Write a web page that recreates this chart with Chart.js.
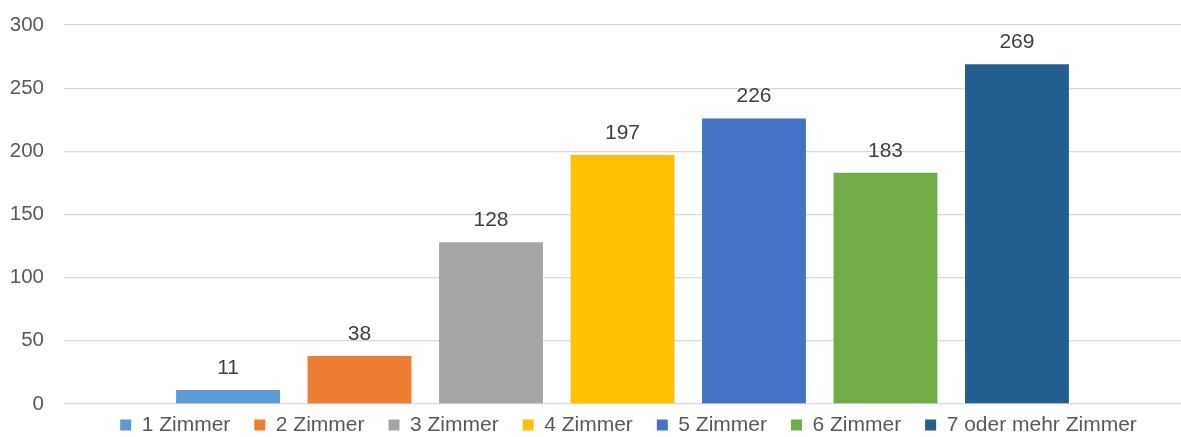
<!DOCTYPE html>
<html>
<head>
<meta charset="utf-8">
<script src="https://cdn.jsdelivr.net/npm/chart.js@4"></script>
<style>
    html, body { margin: 0; padding: 0; background: #fff; }
    #wrap { width: 1181px; height: 437px; position: relative; }
</style>
</head>
<body>
<div id="wrap"><canvas id="chart"></canvas></div>
<script>
    // Data
    const seriesNames = ['1 Zimmer', '2 Zimmer', '3 Zimmer', '4 Zimmer', '5 Zimmer', '6 Zimmer', '7 oder mehr Zimmer'];
    const seriesValues = [11, 38, 128, 197, 226, 183, 269];
    const seriesColors = ['#5B9BD5', '#ED7D31', '#A5A5A5', '#FFC000', '#4472C4', '#70AD47', '#255E91'];
    const yTicks = [0, 50, 100, 150, 200, 250, 300];

    const FONT = '"Liberation Sans", Arial, sans-serif';
    const LEGEND_PAD = 24;
    const LEGEND_FONT = 21;

    // Value labels above each bar
    const valueLabels = {
        id: 'valueLabels',
        afterDatasetsDraw: function(chart) {
            const ctx = chart.ctx;
            ctx.save();
            ctx.font = '21px ' + FONT;
            ctx.fillStyle = '#404040';
            ctx.textAlign = 'center';
            ctx.textBaseline = 'alphabetic';
            chart.data.datasets.forEach(function(ds, i) {
                const meta = chart.getDatasetMeta(i);
                meta.data.forEach(function(bar, j) {
                    ctx.fillText(String(ds.data[j]), bar.x, bar.y - 16);
                });
            });
            ctx.restore();
        }
    };

    // Legend sits tighter under the plot than Chart.js would put it
    const legendShift = {
        id: 'legendShift',
        afterLayout: function(chart) {
            const lg = chart.legend;
            if (!lg) return;
            lg.top = 425 - LEGEND_PAD - LEGEND_FONT / 2;
            lg.bottom = chart.height;
            lg.height = lg.bottom - lg.top;
            lg.left += 6;
            lg.right += 6;
        }
    };

    const datasets = seriesNames.map(function(name, i) {
        return {
            label: name,
            data: [seriesValues[i]],
            backgroundColor: seriesColors[i],
            borderWidth: 0,
            categoryPercentage: 0.824,
            barPercentage: 0.79
        };
    });

    new Chart(document.getElementById('chart'), {
        type: 'bar',
        data: {
            labels: [''],
            datasets: datasets
        },
        options: {
            responsive: true,
            maintainAspectRatio: false,
            animation: false,
            layout: {
                padding: { top: 25, right: 0, left: 0, bottom: 0 }
            },
            plugins: {
                legend: {
                    position: 'bottom',
                    fullSize: false,
                    maxHeight: 33,
                    labels: {
                        boxWidth: 11,
                        boxHeight: 11,
                        padding: LEGEND_PAD,
                        color: '#595959',
                        font: { family: FONT, size: LEGEND_FONT }
                    }
                },
                tooltip: { enabled: false }
            },
            scales: {
                x: {
                    display: false
                },
                y: {
                    min: 0,
                    max: 300,
                    afterBuildTicks: function(axis) {
                        axis.ticks = yTicks.map(function(v) { return { value: v }; });
                    },
                    afterFit: function(axis) {
                        axis.width = 64;
                        axis.paddingTop = 0;
                        axis.paddingBottom = 0;
                    },
                    ticks: {
                        padding: 20,
                        color: '#595959',
                        font: { family: FONT, size: 20.5 }
                    },
                    grid: {
                        color: '#D9D9D9',
                        lineWidth: 1.3,
                        drawTicks: false
                    },
                    border: { display: false }
                }
            }
        },
        plugins: [valueLabels, legendShift]
    });
</script>
</body>
</html>
